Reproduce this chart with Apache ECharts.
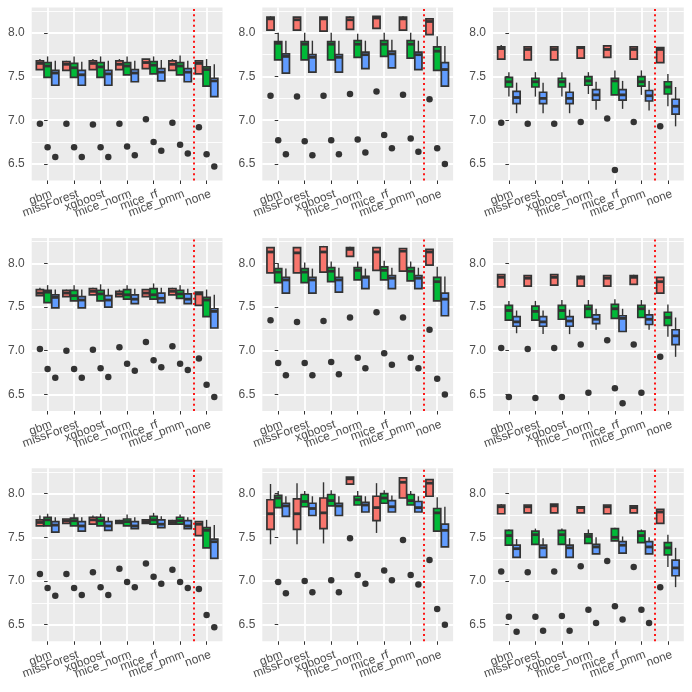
<!DOCTYPE html>
<html>
<head>
<meta charset="utf-8">
<script src="https://cdn.jsdelivr.net/npm/echarts@6/dist/echarts.min.js"></script>
<style>
  html, body { margin: 0; padding: 0; background: #fff; }
  #chart { width: 692px; height: 692px; }
</style>
</head>
<body>
<div id="chart"></div>
<script>
// x categories, same in every panel
const categories = ['gbm', 'missForest', 'xgboost', 'mice_norm', 'mice_rf', 'mice_pmm', 'none'];
// y tick labels
const yTicks = [6.5, 7.0, 7.5, 8.0];
const yMinor = [6.75, 7.25, 7.75, 8.25];

// each row: [lower whisker, Q1, median, Q3, upper whisker]
// outliers: per category [red, green, blue]
const p1Red = [[7.58,7.58,7.65,7.68,7.70],[7.57,7.57,7.64,7.67,7.68],[7.58,7.58,7.65,7.68,7.70],[7.58,7.58,7.64,7.68,7.70],[7.59,7.59,7.66,7.70,7.70],[7.57,7.57,7.64,7.68,7.70],[7.53,7.53,7.65,7.68,7.68]];
const p1Green = [[7.49,7.49,7.62,7.66,7.73],[7.49,7.49,7.60,7.65,7.73],[7.49,7.49,7.61,7.66,7.73],[7.52,7.52,7.62,7.66,7.73],[7.53,7.53,7.63,7.67,7.73],[7.52,7.52,7.62,7.66,7.74],[7.39,7.39,7.58,7.61,7.70]];
const p1Blue = [[7.40,7.40,7.54,7.57,7.68],[7.40,7.40,7.52,7.57,7.67],[7.40,7.40,7.53,7.57,7.68],[7.44,7.44,7.54,7.58,7.68],[7.45,7.45,7.55,7.59,7.69],[7.44,7.44,7.55,7.59,7.68],[7.27,7.27,7.45,7.48,7.64]];
const p1Out = [[6.96,6.69,6.58],[6.96,6.69,6.58],[6.95,6.69,6.58],[6.96,6.70,6.60],[7.01,6.75,6.65],[6.97,6.72,6.62],[6.92,6.61,6.47]];

const p2Red = [[8.03,8.03,8.16,8.18,8.19],[8.03,8.03,8.15,8.18,8.18],[8.02,8.02,8.16,8.18,8.18],[8.04,8.04,8.15,8.18,8.19],[8.05,8.05,8.17,8.19,8.19],[8.03,8.03,8.16,8.18,8.19],[7.98,7.98,8.13,8.16,8.16]];
const p2Green = [[7.69,7.69,7.88,7.90,8.00],[7.69,7.69,7.87,7.90,8.00],[7.69,7.69,7.87,7.90,8.00],[7.72,7.72,7.87,7.91,7.99],[7.73,7.73,7.87,7.91,8.00],[7.71,7.71,7.87,7.91,8.00],[7.57,7.57,7.79,7.84,7.96]];
const p2Blue = [[7.54,7.54,7.73,7.76,7.91],[7.55,7.55,7.72,7.75,7.91],[7.55,7.55,7.72,7.75,7.91],[7.59,7.59,7.75,7.78,7.91],[7.60,7.60,7.76,7.79,7.92],[7.58,7.58,7.75,7.78,7.91],[7.39,7.39,7.58,7.66,7.85]];
const p2Out = [[7.28,6.77,6.61],[7.27,6.76,6.60],[7.28,6.77,6.61],[7.30,6.78,6.63],[7.33,6.83,6.68],[7.29,6.79,6.64],[7.24,6.68,6.50]];

const p3Red = [[7.70,7.70,7.82,7.84,7.86],[7.69,7.69,7.81,7.84,7.84],[7.69,7.69,7.81,7.84,7.84],[7.71,7.71,7.83,7.84,7.85],[7.72,7.72,7.81,7.85,7.85],[7.70,7.70,7.81,7.84,7.85],[7.66,7.66,7.81,7.83,7.83]];
const p3Green = [[7.27,7.38,7.44,7.49,7.55],[7.27,7.38,7.44,7.48,7.55],[7.27,7.38,7.44,7.48,7.55],[7.30,7.40,7.45,7.50,7.55],[7.29,7.29,7.45,7.48,7.57],[7.29,7.39,7.44,7.50,7.57],[7.16,7.30,7.38,7.44,7.53]];
const p3Blue = [[7.08,7.19,7.26,7.33,7.43],[7.08,7.19,7.25,7.32,7.43],[7.08,7.19,7.25,7.32,7.43],[7.12,7.23,7.29,7.35,7.44],[7.13,7.23,7.29,7.35,7.45],[7.11,7.22,7.28,7.34,7.45],[6.93,7.07,7.16,7.24,7.38]];
const p3Out = [[6.97,null,null],[6.96,null,null],[6.96,null,null],[6.98,null,null],[7.02,6.43,null],[6.98,null,null],[6.93,null,null]];

const p4Red = [[7.63,7.63,7.66,7.70,7.72],[7.62,7.62,7.66,7.69,7.70],[7.64,7.64,7.68,7.71,7.72],[7.62,7.62,7.65,7.68,7.70],[7.62,7.62,7.66,7.70,7.70],[7.64,7.64,7.68,7.71,7.72],[7.52,7.52,7.65,7.67,7.67]];
const p4Green = [[7.55,7.55,7.67,7.69,7.75],[7.57,7.57,7.63,7.69,7.75],[7.57,7.57,7.65,7.69,7.76],[7.59,7.59,7.64,7.70,7.75],[7.59,7.59,7.64,7.71,7.77],[7.60,7.60,7.65,7.69,7.75],[7.39,7.39,7.58,7.61,7.70]];
const p4Blue = [[7.49,7.49,7.61,7.64,7.70],[7.49,7.49,7.58,7.62,7.70],[7.50,7.50,7.58,7.63,7.71],[7.54,7.54,7.59,7.64,7.71],[7.55,7.55,7.60,7.66,7.72],[7.54,7.54,7.59,7.65,7.71],[7.26,7.26,7.45,7.48,7.64]];
const p4Out = [[7.02,6.79,6.69],[7.00,6.79,6.69],[7.01,6.80,6.70],[7.04,6.85,6.77],[7.10,6.89,6.81],[7.05,6.85,6.78],[6.91,6.61,6.47]];

const p5Red = [[7.89,7.89,8.13,8.18,8.18],[7.89,7.89,8.12,8.18,8.18],[7.90,7.90,8.13,8.19,8.20],[8.08,8.08,8.16,8.18,8.19],[7.92,7.92,8.13,8.18,8.18],[7.91,7.91,8.14,8.17,8.17],[7.98,7.98,8.13,8.16,8.16]];
const p5Green = [[7.78,7.78,7.90,7.94,8.00],[7.78,7.78,7.90,7.94,8.01],[7.79,7.79,7.91,7.95,8.02],[7.81,7.81,7.92,7.95,8.02],[7.81,7.81,7.92,7.96,8.03],[7.80,7.80,7.91,7.95,8.02],[7.57,7.57,7.79,7.84,7.96]];
const p5Blue = [[7.66,7.66,7.81,7.84,7.94],[7.66,7.66,7.81,7.84,7.94],[7.67,7.67,7.81,7.84,7.95],[7.71,7.71,7.84,7.85,7.94],[7.71,7.71,7.83,7.86,7.95],[7.71,7.71,7.83,7.86,7.95],[7.40,7.40,7.59,7.66,7.85]];
const p5Out = [[7.35,6.86,6.72],[7.33,6.86,6.72],[7.34,6.87,6.73],[7.38,6.92,6.80],[7.44,6.97,6.84],[7.38,6.92,6.80],[7.24,6.68,6.50]];

const p6Red = [[7.73,7.73,7.84,7.87,7.87],[7.74,7.74,7.83,7.86,7.86],[7.75,7.75,7.84,7.87,7.87],[7.74,7.74,7.83,7.85,7.86],[7.74,7.74,7.83,7.86,7.86],[7.76,7.76,7.84,7.86,7.87],[7.66,7.66,7.79,7.84,7.84]];
const p6Green = [[7.35,7.35,7.46,7.52,7.57],[7.35,7.35,7.45,7.51,7.57],[7.36,7.36,7.46,7.52,7.58],[7.38,7.38,7.48,7.52,7.58],[7.37,7.37,7.48,7.53,7.59],[7.38,7.38,7.48,7.52,7.58],[7.16,7.29,7.38,7.44,7.53]];
const p6Blue = [[7.20,7.28,7.33,7.39,7.46],[7.19,7.28,7.33,7.39,7.46],[7.19,7.28,7.34,7.39,7.47],[7.24,7.31,7.36,7.41,7.48],[7.22,7.22,7.37,7.40,7.48],[7.24,7.30,7.36,7.41,7.47],[6.93,7.07,7.17,7.24,7.38]];
const p6Out = [[7.03,6.47,null],[7.02,6.46,null],[7.03,6.47,null],[7.07,6.52,null],[7.12,6.57,6.40],[7.07,6.52,null],[6.93,null,null]];

const p7Red = [[7.63,7.63,7.67,7.70,7.75],[7.66,7.66,7.69,7.71,7.71],[7.65,7.65,7.70,7.73,7.75],[7.66,7.66,7.68,7.69,7.70],[7.66,7.66,7.68,7.70,7.70],[7.65,7.65,7.67,7.69,7.70],[7.52,7.52,7.65,7.68,7.68]];
const p7Green = [[7.63,7.63,7.70,7.73,7.77],[7.63,7.63,7.69,7.72,7.77],[7.63,7.63,7.69,7.73,7.77],[7.63,7.63,7.68,7.71,7.76],[7.65,7.65,7.70,7.74,7.78],[7.65,7.65,7.69,7.73,7.76],[7.38,7.38,7.58,7.61,7.70]];
const p7Blue = [[7.56,7.56,7.64,7.68,7.73],[7.57,7.57,7.63,7.68,7.73],[7.58,7.58,7.63,7.68,7.73],[7.60,7.60,7.63,7.68,7.73],[7.61,7.61,7.65,7.70,7.74],[7.60,7.60,7.63,7.69,7.73],[7.26,7.26,7.45,7.48,7.64]];
const p7Out = [[7.08,6.92,6.83],[7.08,6.92,6.84],[7.10,6.93,6.84],[7.14,6.99,6.93],[7.20,7.05,6.97],[7.13,6.99,6.92],[6.91,6.61,6.47]];

const p8Red = [[7.42,7.59,7.77,7.93,8.11],[7.42,7.59,7.77,7.94,8.12],[7.43,7.60,7.78,7.95,8.13],[8.11,8.11,8.17,8.19,8.19],[7.55,7.69,7.84,7.97,8.12],[7.95,7.95,8.13,8.18,8.18],[7.97,7.97,8.12,8.16,8.16]];
const p8Green = [[7.84,7.84,7.95,7.98,8.03],[7.85,7.85,7.91,7.99,8.03],[7.86,7.86,7.92,7.99,8.04],[7.87,7.87,7.93,7.97,8.03],[7.89,7.89,7.95,8.00,8.04],[7.87,7.87,7.92,7.99,8.03],[7.57,7.57,7.78,7.83,7.96]];
const p8Blue = [[7.74,7.74,7.86,7.89,7.97],[7.75,7.75,7.83,7.89,7.97],[7.75,7.75,7.86,7.89,7.97],[7.79,7.79,7.87,7.90,7.97],[7.79,7.79,7.85,7.92,7.98],[7.79,7.79,7.84,7.91,7.97],[7.39,7.39,7.58,7.65,7.85]];
const p8Out = [[null,6.99,6.86],[null,7.00,6.87],[null,7.01,6.87],[7.49,7.07,6.97],[null,7.12,7.01],[7.47,7.07,6.96],[7.24,6.68,6.50]];

const p9Red = [[7.77,7.77,7.85,7.87,7.88],[7.78,7.78,7.85,7.87,7.87],[7.78,7.78,7.86,7.88,7.88],[7.78,7.78,7.84,7.85,7.85],[7.77,7.77,7.85,7.87,7.87],[7.78,7.78,7.84,7.86,7.86],[7.66,7.66,7.79,7.82,7.82]];
const p9Green = [[7.41,7.41,7.52,7.58,7.59],[7.42,7.42,7.53,7.57,7.60],[7.42,7.42,7.53,7.58,7.60],[7.43,7.43,7.51,7.54,7.59],[7.46,7.46,7.50,7.60,7.61],[7.44,7.44,7.52,7.57,7.59],[7.16,7.30,7.38,7.44,7.53]];
const p9Blue = [[7.27,7.27,7.37,7.41,7.48],[7.27,7.27,7.38,7.41,7.49],[7.27,7.27,7.38,7.41,7.49],[7.31,7.31,7.39,7.42,7.50],[7.32,7.32,7.41,7.45,7.51],[7.31,7.31,7.39,7.45,7.50],[6.93,7.06,7.15,7.24,7.38]];
const p9Out = [[7.11,6.59,6.42],[7.10,6.59,6.43],[7.11,6.60,6.43],[7.17,6.67,6.52],[7.23,6.71,6.56],[7.16,6.67,6.52],[6.93,null,null]];

const panels = [
  [p1Red, p1Green, p1Blue, p1Out], [p2Red, p2Green, p2Blue, p2Out], [p3Red, p3Green, p3Blue, p3Out],
  [p4Red, p4Green, p4Blue, p4Out], [p5Red, p5Green, p5Blue, p5Out], [p6Red, p6Green, p6Blue, p6Out],
  [p7Red, p7Green, p7Blue, p7Out], [p8Red, p8Green, p8Blue, p8Out], [p9Red, p9Green, p9Blue, p9Out]
];

const colors = ['#F8766D', '#00BA38', '#619CFF'];
const dodge = [-0.29, 0, 0.29]; // ggplot dodge offsets
const BOX_W = 0.27;
const LABEL_SHIFT = 0.15;
const lefts = [31.7, 262.3, 493];
const tops = [7.5, 238, 468.3];
const W = 190.8, H = 173;
const FONT = 'Liberation Sans';

const chart = echarts.init(document.getElementById('chart'));

function renderBox(params, api) {
  const x = api.value(0);
  const pHi = api.coord([x, api.value(5)]);
  const pQ3 = api.coord([x, api.value(4)]);
  const pMed = api.coord([x, api.value(3)]);
  const pQ1 = api.coord([x, api.value(2)]);
  const pLo = api.coord([x, api.value(1)]);
  const w = api.size([BOX_W, 0])[0];
  const cx = pHi[0];
  const dark = '#333333';
  return {
    type: 'group',
    children: [
      { type: 'line', shape: { x1: cx, y1: pHi[1], x2: cx, y2: pQ3[1] }, style: { stroke: dark, lineWidth: 1.4 } },
      { type: 'line', shape: { x1: cx, y1: pQ1[1], x2: cx, y2: pLo[1] }, style: { stroke: dark, lineWidth: 1.4 } },
      { type: 'rect', shape: { x: cx - w / 2, y: pQ3[1], width: w, height: pQ1[1] - pQ3[1] },
        style: { fill: api.visual('color'), stroke: dark, lineWidth: 1.7 } },
      { type: 'line', shape: { x1: cx - w / 2, y1: pMed[1], x2: cx + w / 2, y2: pMed[1] }, style: { stroke: dark, lineWidth: 2.8 } }
    ]
  };
}

// one label axis for even categories, one for odd, so no label gets dropped
function labelAxis(k, parity, withGrid) {
  const idx = categories.map((d, i) => i).filter(i => i % 2 === parity);
  return {
    type: 'value', gridIndex: k, min: -0.6, max: 6.6, position: 'bottom',
    axisLine: { show: false },
    axisTick: withGrid
      ? { show: true, customValues: categories.map((d, i) => i), length: 3.5, lineStyle: { color: '#333333', width: 1 } }
      : { show: false, customValues: idx },
    axisLabel: {
      customValues: idx.map(i => i + LABEL_SHIFT),
      formatter: v => categories[Math.round(v - LABEL_SHIFT)],
      showMinLabel: true, showMaxLabel: true, hideOverlap: false,
      rotate: 20, margin: 13, fontSize: 12, fontFamily: FONT, color: '#4D4D4D'
    },
    splitLine: { show: withGrid, lineStyle: { color: '#FFFFFF', width: 1.8 } }
  };
}

const grid = [], xAxis = [], yAxis = [], series = [];
panels.forEach(function (p, k) {
  const r = Math.floor(k / 3), c = k % 3;
  grid.push({
    left: lefts[c], top: tops[r], width: W, height: H,
    show: true, backgroundColor: '#EBEBEB', borderWidth: 0,
    outerBoundsMode: 'none', containLabel: false
  });
  xAxis.push(labelAxis(k, 0, true));
  xAxis.push(labelAxis(k, 1, false));
  yAxis.push({
    type: 'value', gridIndex: k, min: 6.31, max: 8.29, position: 'left',
    axisLine: { show: false },
    axisTick: { show: true, customValues: yTicks, length: 3.5, lineStyle: { color: '#333333', width: 1 } },
    axisLabel: { customValues: yTicks, formatter: v => v.toFixed(1), margin: 7, fontSize: 12, fontFamily: FONT, color: '#4D4D4D' },
    splitLine: { show: true, lineStyle: { color: '#FFFFFF', width: 1.8 } }
  });
  // minor grid lines
  yAxis.push({
    type: 'value', gridIndex: k, min: 6.31, max: 8.29, position: 'left',
    axisLine: { show: false },
    axisTick: { show: false, customValues: yMinor },
    axisLabel: { show: false, customValues: yMinor },
    splitLine: { show: true, lineStyle: { color: '#FFFFFF', width: 0.9 } }
  });

  for (let g = 0; g < 3; g++) {
    series.push({
      type: 'custom', xAxisIndex: 2 * k, yAxisIndex: 2 * k, z: 3,
      itemStyle: { color: colors[g] },
      renderItem: renderBox,
      encode: { x: 0, y: [1, 2, 3, 4, 5] },
      data: p[g].map((b, i) => [i + dodge[g]].concat(b)),
      silent: true, animation: false
    });
  }
  const outPts = [];
  p[3].forEach(function (row, i) {
    row.forEach(function (v, g) { if (v != null) outPts.push([i + dodge[g], v]); });
  });
  series.push({
    type: 'scatter', xAxisIndex: 2 * k, yAxisIndex: 2 * k, z: 4,
    symbolSize: 6.5, itemStyle: { color: '#333333', opacity: 1 },
    data: outPts, silent: true, animation: false,
    markLine: {
      silent: true, symbol: 'none', label: { show: false }, animation: false,
      lineStyle: { color: '#FF0000', type: [2, 3.3], width: 1.8 },
      data: [{ xAxis: 5.5 }]
    }
  });
});

chart.setOption({
  backgroundColor: '#FFFFFF',
  animation: false,
  grid: grid,
  xAxis: xAxis,
  yAxis: yAxis,
  series: series
});
</script>
</body>
</html>
